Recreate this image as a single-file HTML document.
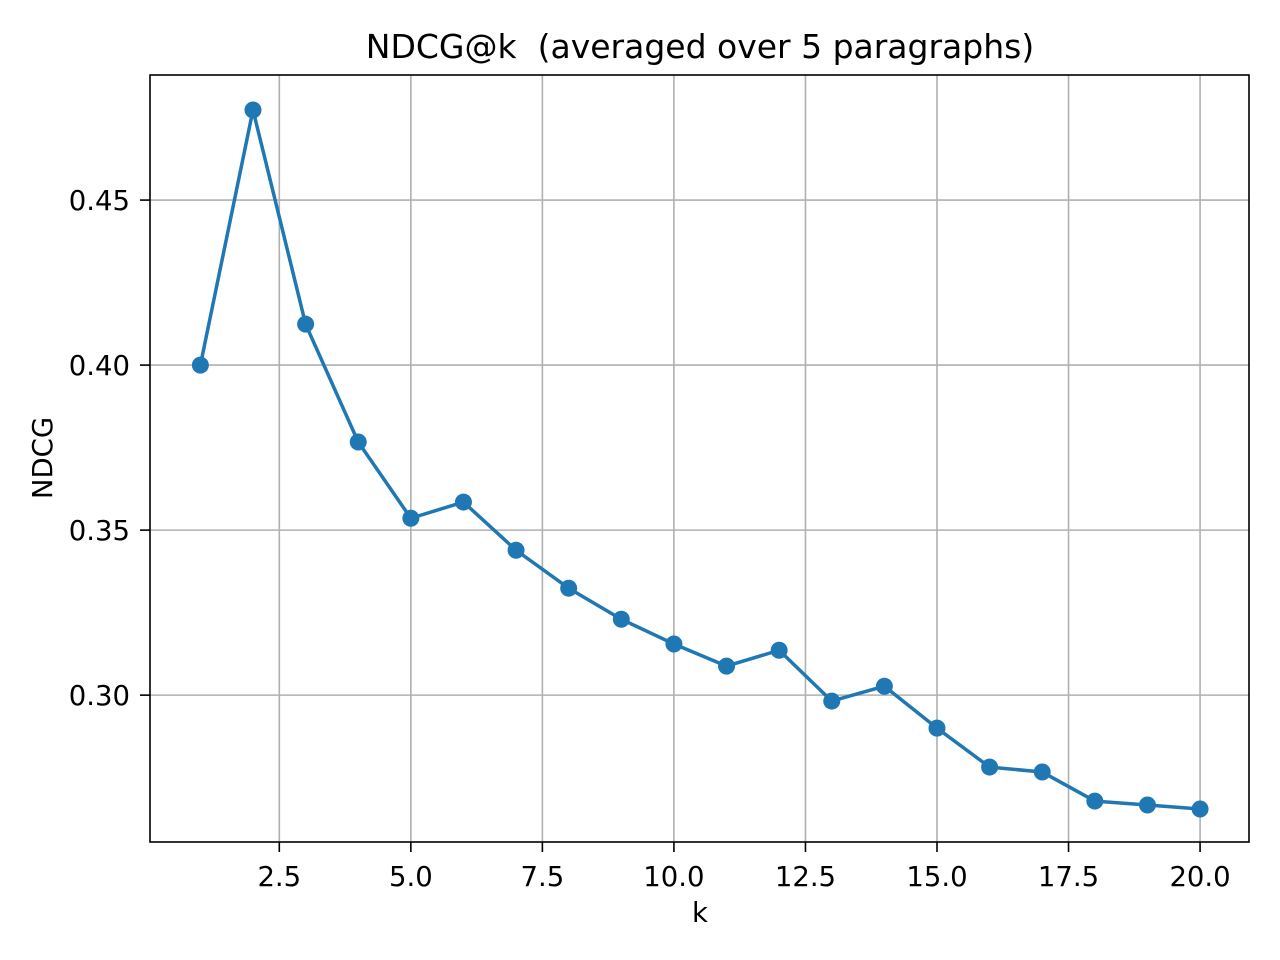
<!DOCTYPE html>
<html><head><meta charset="utf-8"><style>
html,body{margin:0;padding:0;background:#fff;}
svg{display:block;font-family:"DejaVu Sans","Liberation Sans",sans-serif;}
</style></head><body>
<svg id="chart" width="1280" height="960" viewBox="0 0 1280 960" xmlns="http://www.w3.org/2000/svg">
<rect width="1280" height="960" fill="#fff"/>
<g id="grid"></g>
<g id="series"></g>
<rect x="150" y="75" width="1099" height="767" fill="none" stroke="#000" stroke-width="1.6"/>
<g id="ticks"></g>
<text x="700" y="58" text-anchor="middle" font-size="33" style="white-space:pre">NDCG@k  (averaged over 5 paragraphs)</text>
<text x="700" y="922" text-anchor="middle" font-size="27.5">k</text>
<text transform="translate(52,458) rotate(-90)" text-anchor="middle" font-size="27.5">NDCG</text>
</svg>
<script>
const kValues = [1,2,3,4,5,6,7,8,9,10,11,12,13,14,15,16,17,18,19,20];
const ndcgValues = [0.400,0.4773,0.4124,0.3767,0.3536,0.3585,0.3439,0.3324,0.3230,0.3155,0.3088,0.3136,0.2982,0.3027,0.2900,0.2782,0.2767,0.2679,0.2667,0.2655];
const xTicks = [2.5,5.0,7.5,10.0,12.5,15.0,17.5,20.0];
const yTicks = [0.30,0.35,0.40,0.45];

const L=150,R=1249,T=75,B=842;
const xMin=0.0424,xMax=20.93,yMin=0.2555,yMax=0.4879;
const xs=v=>L+(v-xMin)/(xMax-xMin)*(R-L);
const ys=v=>B-(v-yMin)/(yMax-yMin)*(B-T);
const NS='http://www.w3.org/2000/svg';
function mk(tag,attrs,parent){const e=document.createElementNS(NS,tag);for(const k in attrs)e.setAttribute(k,attrs[k]);parent.appendChild(e);return e;}
const grid=document.getElementById('grid'),ticks=document.getElementById('ticks'),series=document.getElementById('series');
xTicks.forEach(t=>{
  const x=xs(t);
  const g=mk('line',{x1:x,x2:x,y1:T,y2:B,stroke:'#b0b0b0','stroke-width':1.6},grid);
  
  
  const tk=mk('line',{x1:x,x2:x,y1:B,y2:B+10,stroke:'#000','stroke-width':1.6},ticks);
  
  
  const lb=mk('text',{x:x,y:B+44,'text-anchor':'middle','font-size':27.5},ticks);
  
  
  lb.textContent=t.toFixed(1);
});
yTicks.forEach(t=>{
  const y=ys(t);
  const g=mk('line',{x1:L,x2:R,y1:y,y2:y,stroke:'#b0b0b0','stroke-width':1.6},grid);
  
  
  const tk=mk('line',{x1:L-10,x2:L,y1:y,y2:y,stroke:'#000','stroke-width':1.6},ticks);
  
  
  const lb=mk('text',{x:L-20,y:y+10,'text-anchor':'end','font-size':27.5},ticks);
  
  
  lb.textContent=t.toFixed(2);
});
const pts=kValues.map((k,i)=>xs(k)+','+ys(ndcgValues[i])).join(' ');
const pl=mk('polyline',{points:pts,fill:'none',stroke:'#1f77b4','stroke-width':3.5,'stroke-linejoin':'round'},series);


kValues.forEach((k,i)=>{
  const c=mk('circle',{cx:xs(k),cy:ys(ndcgValues[i]),r:8.5,fill:'#1f77b4'},series);
  
  
});
</script>
</body></html>
